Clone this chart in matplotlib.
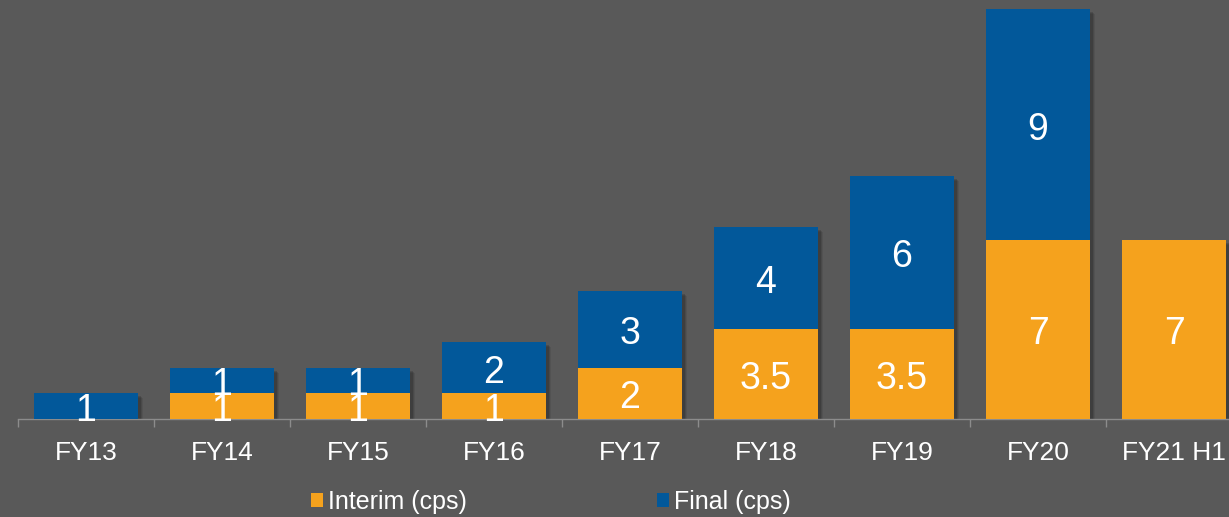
import numpy as np
import matplotlib.pyplot as plt
import matplotlib.transforms as mtransforms
from matplotlib import font_manager as fm
from matplotlib.ticker import FixedLocator

# Data
years = ['FY13', 'FY14', 'FY15', 'FY16', 'FY17', 'FY18', 'FY19', 'FY20', 'FY21 H1']
interim = [0, 1, 1, 1, 2, 3.5, 3.5, 7, 7]
final = [1, 1, 1, 2, 3, 4, 6, 9, 0]

bg = '#595959'
c_interim = '#F5A21D'
c_final = '#02589A'

plt.rcParams['font.family'] = ['Liberation Sans', 'DejaVu Sans']
names = {f.name for f in fm.fontManager.ttflist}
narrow = 'Liberation Sans Narrow' in names

fig = plt.figure(figsize=(12.29, 5.17), dpi=100, facecolor=bg)
ax = fig.add_axes([18 / 1229, 98 / 517, 1224 / 1229, 419 / 517], facecolor=bg)

x = np.arange(len(years))
w = 0.765
totals = np.array(interim) + np.array(final)

# soft drop shadow behind each stack
for dx, a in [(5, 0.08), (4, 0.10), (3, 0.14)]:
    off = mtransforms.ScaledTranslation(dx / 100, -dx / 100, fig.dpi_scale_trans)
    ax.bar(x, totals, w, color='black', alpha=a, zorder=2, transform=ax.transData + off)

b1 = ax.bar(x, interim, w, color=c_interim, label='Interim (cps)', zorder=3)
b2 = ax.bar(x, final, w, bottom=interim, color=c_final, label='Final (cps)', zorder=3)

def fmt(v):
    return f'{v:g}'

for i in range(len(years)):
    if interim[i] > 0:
        ax.annotate(fmt(interim[i]), (x[i], interim[i] / 2), xytext=(0, -3.5),
                    textcoords='offset points', ha='center', va='center',
                    color='white', fontsize=27, zorder=5)
    if final[i] > 0:
        ax.annotate(fmt(final[i]), (x[i], interim[i] + final[i] / 2), xytext=(0, -3.5),
                    textcoords='offset points', ha='center', va='center',
                    color='white', fontsize=27, zorder=5)

ax.set_xlim(-0.5, len(years) - 0.5)
ax.set_ylim(0, 16.37)
ax.set_yticks([])
ax.set_xticks(x)
ax.set_xticklabels(years, color='white', fontsize=19)
ax.tick_params(axis='x', which='major', length=0, pad=16)
ax.xaxis.set_minor_locator(FixedLocator(np.arange(-0.5, len(years), 1)))
ax.tick_params(axis='x', which='minor', length=6, color='#8c8c8c', width=1)

for s in ['top', 'right', 'left']:
    ax.spines[s].set_visible(False)
ax.spines['bottom'].set_color('#8c8c8c')
ax.spines['bottom'].set_linewidth(1)

leg_fs = 21 if narrow else 18
hl = 12 / (leg_fs * 100 / 72)
leg = fig.legend(handles=[b1, b2], loc='center', bbox_to_anchor=(551 / 1229, 1 - 502 / 517),
                 ncol=2, frameon=False, handlelength=hl, handleheight=hl,
                 handletextpad=0.2, columnspacing=(7.2 if narrow else 7.6),
                 prop={'family': ['Liberation Sans Narrow' if narrow else 'Liberation Sans'],
                       'size': leg_fs})
for t in leg.get_texts():
    t.set_color('white')

fig.savefig('out.png', dpi=100, facecolor=bg)
